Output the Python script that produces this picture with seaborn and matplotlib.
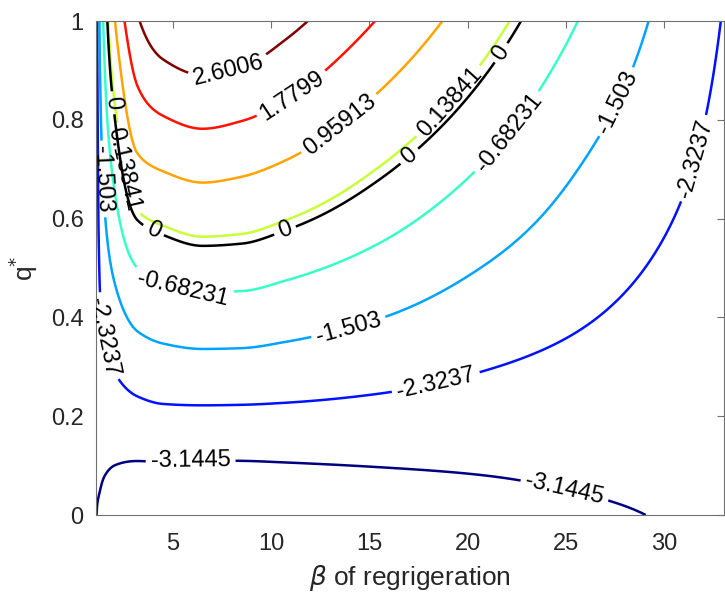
import numpy as np
import matplotlib
matplotlib.use("Agg")
import matplotlib.pyplot as plt
import seaborn as sns
from matplotlib.ticker import FormatStrFormatter

# ---- data (field values at grid knots) ----
beta_knots = [1.08, 1.25, 1.5, 2.0, 3.2, 4.5, 6.5, 8.5, 10.7, 15.5, 21.0, 25.6, 29.2, 33.05]
q_knots = [0.0, 0.25, 0.5, 0.75, 1.0]
z_q000 = [-3.13, -3.22, -3.37, -3.57, -3.83, -3.91, -3.96, -3.94, -3.87, -3.68, -3.45, -3.26, -3.14, -3.01]
z_q025 = [-3.06, -2.78, -2.64, -2.50, -2.26, -2.15, -2.12, -2.13, -2.17, -2.30, -2.49, -2.63, -2.74, -2.85]
z_q050 = [-2.99, -2.30, -1.88, -1.39, -0.68, -0.48, -0.33, -0.35, -0.51, -0.95, -1.54, -2.00, -2.34, -2.69]
z_q075 = [-2.92, -1.90, -1.17, -0.30, 1.08, 1.36, 1.54, 1.43, 1.18, 0.38, -0.57, -1.37, -1.92, -2.52]
z_q100 = [-2.85, -1.50, -0.50, 0.87, 2.53, 3.16, 3.43, 3.30, 2.86, 1.73, 0.41, -0.68, -1.50, -2.36]

levels = [-3.1445, -2.3237, -1.503, -0.68231, 0.13841, 0.95913, 1.7799, 2.6006]
zero_level = [0.0]
x_ticks = [5, 10, 15, 20, 25, 30]
y_ticks = [0, 0.2, 0.4, 0.6, 0.8, 1.0]

# label anchor positions (beta, q)
label_pos = [(5.9, 0.105), (24.9, 0.045),
             (1.45, 0.36), (18.4, 0.265), (31.7, 0.72),
             (1.35, 0.68), (14.0, 0.37), (27.9, 0.83),
             (5.5, 0.46), (22.2, 0.77),
             (2.6, 0.70), (19.1, 0.835),
             (13.5, 0.79), (11.1, 0.848), (7.9, 0.89)]
zero_label_pos = [(1.84, 0.834), (3.93, 0.57), (10.7, 0.576), (17.1, 0.723), (21.8, 0.933)]


def pchip(xk, yk, x):
    xk = np.asarray(xk, float); yk = np.asarray(yk, float); x = np.asarray(x, float)
    h = np.diff(xk); d = np.diff(yk) / h
    n = len(xk)
    m = np.zeros(n)
    m[0] = d[0]; m[-1] = d[-1]
    for i in range(1, n - 1):
        if d[i - 1] * d[i] <= 0:
            m[i] = 0.0
        else:
            w1 = 2 * h[i] + h[i - 1]; w2 = h[i] + 2 * h[i - 1]
            m[i] = (w1 + w2) / (w1 / d[i - 1] + w2 / d[i])
    idx = np.clip(np.searchsorted(xk, x) - 1, 0, n - 2)
    t = (x - xk[idx]) / h[idx]
    h00 = 2 * t**3 - 3 * t**2 + 1
    h10 = t**3 - 2 * t**2 + t
    h01 = -2 * t**3 + 3 * t**2
    h11 = t**3 - t**2
    return h00 * yk[idx] + h10 * h[idx] * m[idx] + h01 * yk[idx + 1] + h11 * h[idx] * m[idx + 1]


def matlab_jet(n):
    t = np.linspace(0, 1, n)
    r = np.clip(1.5 - np.abs(4 * t - 3), 0, 1)
    g = np.clip(1.5 - np.abs(4 * t - 2), 0, 1)
    b = np.clip(1.5 - np.abs(4 * t - 1), 0, 1)
    return np.stack([r, g, b], axis=1)


zk = np.array([z_q000, z_q025, z_q050, z_q075, z_q100])  # (q, beta)
bb = np.linspace(beta_knots[0], beta_knots[-1], 500)
qq = np.linspace(0, 1, 400)
rows = np.array([pchip(beta_knots, zk[i], bb) for i in range(len(q_knots))])
Z = np.array([pchip(q_knots, rows[:, j], qq) for j in range(len(bb))]).T
B, Q = np.meshgrid(bb, qq)

sns.set_style("white")
plt.rcParams["font.family"] = ["Liberation Sans", "DejaVu Sans"]
plt.rcParams["mathtext.fontset"] = "dejavusans"

fig = plt.figure(figsize=(7.25, 5.92), dpi=100)
ax = fig.add_axes([96 / 725, (592 - 515) / 592, 628 / 725, 494 / 592])

cols = [tuple(c) for c in matlab_jet(len(levels))]
cs = ax.contour(B, Q, Z, levels=levels, colors=cols, linewidths=1.8)
cz = ax.contour(B, Q, Z, levels=zero_level, colors="k", linewidths=1.8)
ax.clabel(cs, fmt="%.5g", inline=True, fontsize=17, colors="k", manual=label_pos, inline_spacing=5)
ax.clabel(cz, fmt="%.5g", inline=True, fontsize=17, colors="k", manual=zero_label_pos, inline_spacing=5)

ax.set_xlim(beta_knots[0], beta_knots[-1])
ax.set_ylim(0, 1)
ax.set_xticks(x_ticks)
ax.set_yticks(y_ticks)
ax.yaxis.set_major_formatter(FormatStrFormatter("%g"))
ax.tick_params(direction="in", length=5, width=0.8, color="#707070", labelsize=17,
               labelcolor="#262626", top=True, right=True)
ax.tick_params(axis="x", pad=13)
ax.tick_params(axis="y", pad=9)
for s in ax.spines.values():
    s.set_color("#707070")
    s.set_linewidth(0.8)
ax.set_xlabel(r"$\beta$ of regrigeration", fontsize=19, color="#262626", labelpad=6)
ax.set_ylabel(r"q$^{*}$", fontsize=19, color="#262626", labelpad=8)

fig.savefig("out.png", dpi=100)
